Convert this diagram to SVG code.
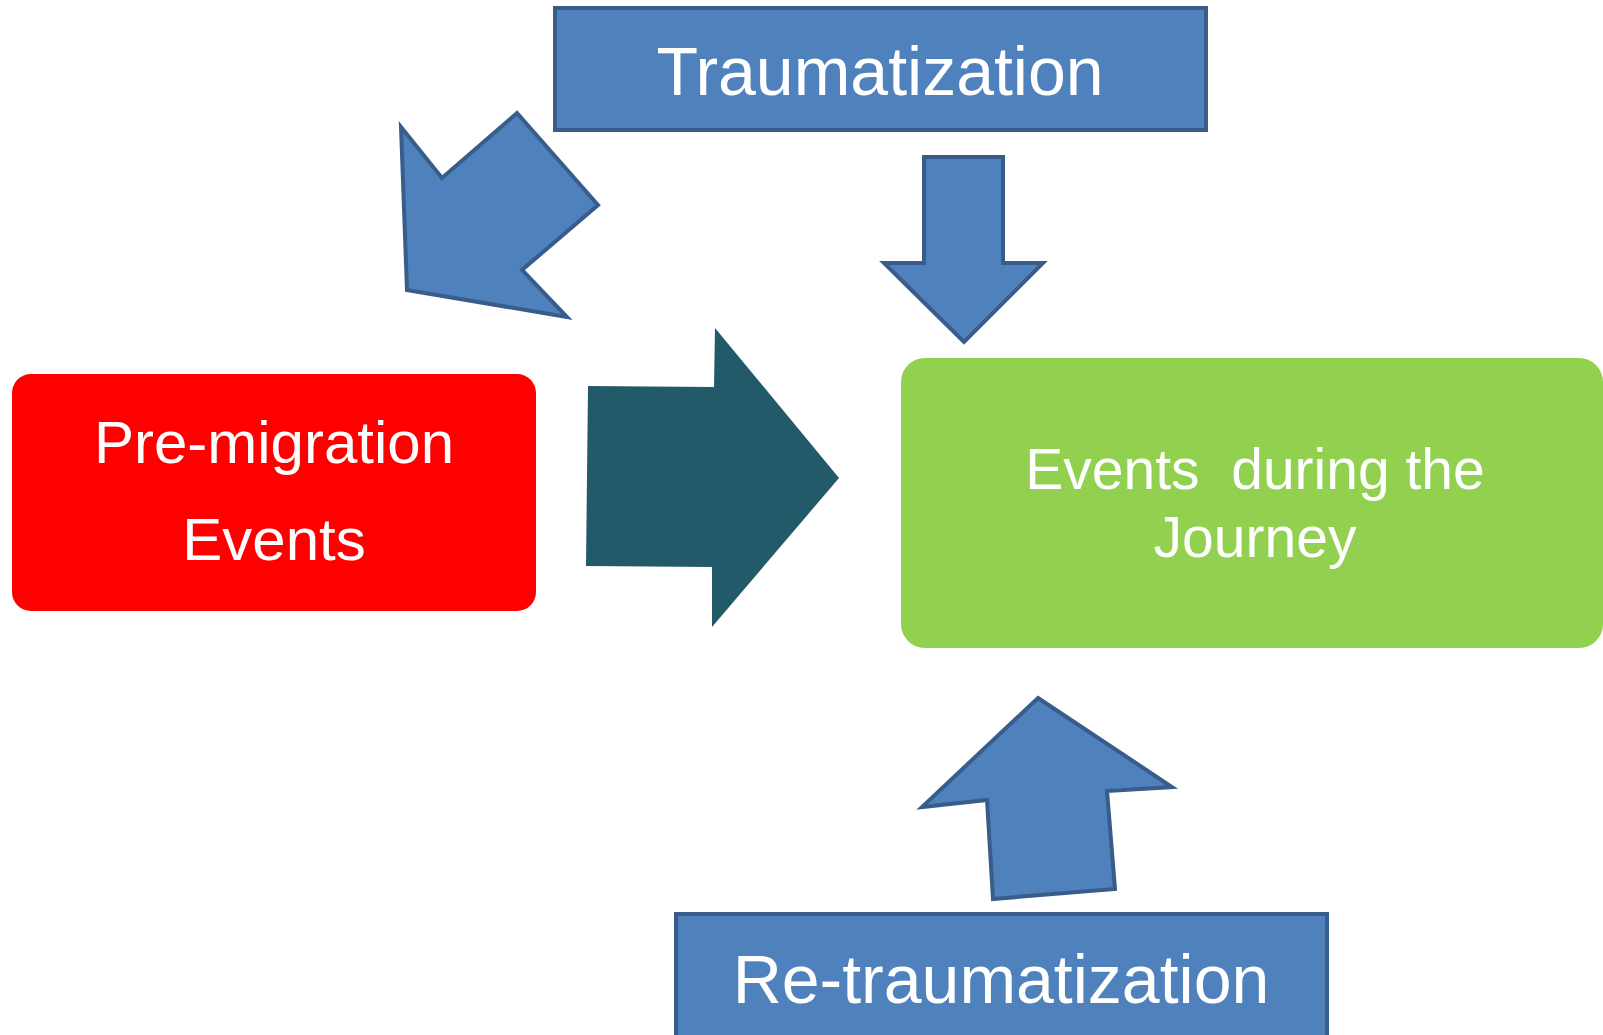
<svg xmlns="http://www.w3.org/2000/svg" width="1603" height="1035" viewBox="0 0 1603 1035">
<style>
.blue{fill:#4F81BD;stroke:#385D8A;stroke-width:4;stroke-linejoin:miter}
.t{font-family:"Liberation Sans",Arial,sans-serif;fill:#FFFFFF;text-anchor:middle;white-space:pre}
</style>
<rect width="1603" height="1035" fill="#FFFFFF"/>
<g id="connectors">
<polygon id="arrow-diag" class="blue" points="401,127 442,178 517,113 598,205 522,270 567,317 407,290"/>
<polygon id="arrow-down" class="blue" points="924,157 1003,157 1003,263 1043,263 964,342 884,263 924,263"/>
<polygon id="arrow-right" fill="#235A69" points="588,386 714,387 715,328 839,478 712,627 712,567 586,566"/>
<polygon id="arrow-up" class="blue" points="1038,698 1172,787 1107,791 1115,889 993,899 987,800 922,807"/>
</g>
<g id="node-traumatization">
<rect class="blue" x="555" y="8" width="651" height="122"/>
<text class="t" x="880" y="95" font-size="68">Traumatization</text>
</g>
<g id="node-retraumatization">
<rect class="blue" x="676" y="914" width="651" height="125"/>
<text class="t" x="1001" y="1003" font-size="68">Re-traumatization</text>
</g>
<g id="node-premigration">
<rect x="12" y="374" width="524" height="237" rx="19" fill="#FF0000"/>
<text class="t" x="274" y="463" font-size="60">Pre-migration</text>
<text class="t" x="274" y="560" font-size="60">Events</text>
</g>
<g id="node-journey">
<rect x="901" y="358" width="702" height="290" rx="24" fill="#92D050"/>
<text class="t" x="1255" y="489" font-size="57">Events  during the</text>
<text class="t" x="1255" y="557" font-size="57">Journey</text>
</g>
</svg>
